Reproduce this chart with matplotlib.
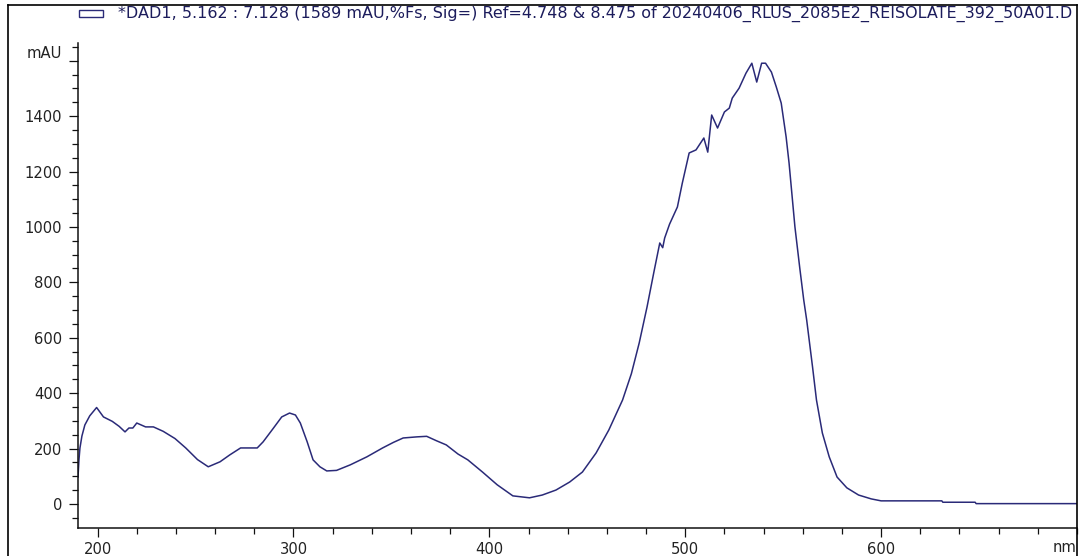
import numpy as np
import matplotlib
matplotlib.use("Agg")
from matplotlib import pyplot as plt
from matplotlib.lines import Line2D
from matplotlib.patches import Rectangle

# spectrum (wavelength nm, absorbance mAU)
wavelength = [190, 190.5, 191, 192, 193.5, 196, 199.5, 203, 207.5, 211, 214, 216, 218, 220,
              224.5, 228.5, 233.5, 239.5, 245, 251, 256.5, 262.5, 267.5, 273, 281.5, 284.5,
              289.5, 294, 298, 301, 303.5, 307, 310, 313.5, 317, 322, 329, 337.5, 345.5, 351,
              356, 363, 368, 373, 378, 384, 389, 396.5, 404, 412, 420.5, 427, 434, 441, 447.5,
              454.5, 461, 468, 472.5, 476.5, 480.5, 484, 487, 488.5, 489.5, 492, 496, 498.5,
              502, 505.5, 509.5, 511.5, 513.5, 516.5, 520, 522.5, 524, 527.5, 531, 534, 536.5,
              539, 541, 544, 546.5, 549, 551.5, 553, 556, 558.5, 560.5, 562, 565, 567, 570,
              573.5, 577.5, 582.5, 588.5, 595, 600, 631, 631.5, 648, 648.5, 700]
absorbance = [97, 160, 202, 245, 285, 318, 348, 314, 298, 280, 260, 274, 274, 292,
              278, 278, 262, 236, 202, 160, 134, 152, 177, 202, 202, 224,
              271, 314, 328, 321, 292, 224, 159, 134, 119, 121, 141, 170, 202, 222,
              238, 242, 244, 228, 213, 180, 159, 115, 69, 29, 22, 32, 50, 79, 115,
              184, 267, 375, 470, 581, 711, 837, 942, 925, 960, 1010, 1072, 1158,
              1267, 1278, 1321, 1270, 1404, 1357, 1415, 1429, 1465, 1501, 1555, 1591, 1523,
              1591, 1591, 1559, 1505, 1447, 1325, 1231, 1000, 850, 736, 664, 494, 375, 256,
              170, 97, 58, 32, 18, 11, 11, 6, 6, 1, 1]

x_major = [200, 300, 400, 500, 600]
y_major = [0, 200, 400, 600, 800, 1000, 1200, 1400, 1600]
title = ("*DAD1, 5.162 : 7.128 (1589 mAU,%Fs, Sig=) Ref=4.748 & 8.475 of "
         "20240406_RLUS_2085E2_REISOLATE_392_50A01.D")

W, H = 1081, 556
line_col = "#2a2a78"
text_col = "#1c1c5c"

fig = plt.figure(figsize=(W / 100, H / 100), dpi=100)
ax = fig.add_axes([78 / W, (H - 528) / H, (1077 - 78) / W, (528 - 43) / H])

ax.plot(wavelength, absorbance, color=line_col, lw=1.1)
ax.set_xlim(190, 700)
ax.set_ylim(-87, 1664)

for s in ("top", "right"):
    ax.spines[s].set_visible(False)
for s in ("left", "bottom"):
    ax.spines[s].set_linewidth(1.1)
    ax.spines[s].set_color("#111111")

ax.set_xticks(x_major)
ax.set_xticks(np.arange(200, 701, 20), minor=True)
ax.set_yticks(y_major)
ax.set_yticklabels([str(v) for v in y_major[:-1]] + [""])
ax.set_yticks(np.arange(-50, 1651, 50), minor=True)

ax.tick_params(which="both", direction="out", width=0.9, color="#111111",
               labelsize=10.6, labelcolor="#222222")
ax.tick_params(which="major", length=6.5)
ax.tick_params(which="minor", length=4.3)
ax.tick_params(axis="x", pad=3.6)
ax.tick_params(axis="y", pad=5)

# unit labels in place of the last ticks
fig.text(62 / W, 1 - 53 / H, "mAU", ha="right", va="center", fontsize=10.6, color="#222222")
fig.text(1076 / W, 1 - 547 / H, "nm", ha="right", va="center", fontsize=10.6, color="#222222")

# outer frame
for xs, ys in (([8, 8], [0, H - 5]), ([8, 1077], [H - 5, H - 5]), ([1077, 1077], [0, H - 5])):
    fig.add_artist(Line2D([x / W for x in xs], [y / H for y in ys], color="black", lw=1.2))

# legend style header
fig.add_artist(Rectangle((79 / W, 1 - 17 / H), 24 / W, 7 / H, fill=False,
                         edgecolor=line_col, lw=1.0))
t = fig.text(118 / W, 1 - 14 / H, title, ha="left", va="center", fontsize=8, color=text_col)
fig.canvas.draw()
w = t.get_window_extent().width
t.set_fontsize(8 * 954 / w)

fig.savefig("out.png", dpi=100)
